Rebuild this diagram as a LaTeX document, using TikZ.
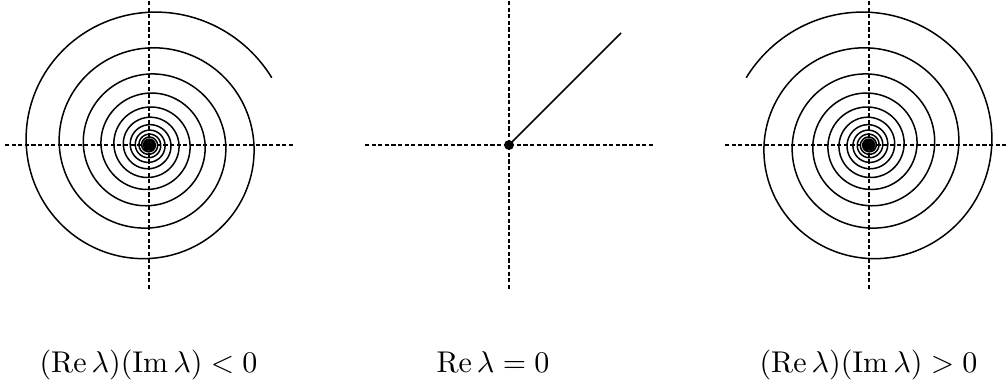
\documentclass[tikz,border=0pt]{standalone}
\usepackage{amsmath}
\begin{document}
\begin{tikzpicture}[x=0.33333pt,y=-0.33333pt,
  declare function={rr(\t)=140*exp(-0.000874*(\t-28.7));},
  axis/.style={dash pattern=on 1.4pt off 0.8pt, line width=0.45pt},
  curve/.style={line width=0.5pt},
  dotc/.style={circle,fill,inner sep=0pt,minimum size=3.3pt},
  lab/.style={anchor=base,inner sep=0pt}]
\useasboundingbox (0,0) rectangle (1008,389);
% left panel
\coordinate (Lw) at (5,145); \coordinate (Le) at (293,145);
\coordinate (Ln) at (149,1); \coordinate (Ls) at (149,289);
\draw[axis] (Lw) -- (Le);
\draw[axis] (Ln) -- (Ls);
\draw[curve] plot[domain=28.7:4425, samples=2000] ({149+rr(\x)*cos(\x)}, {145-rr(\x)*sin(\x)});
\node[dotc] (oL) at (149,145) {};
% middle panel
\coordinate (Mw) at (365,145); \coordinate (Me) at (653,145);
\coordinate (Mn) at (509,1); \coordinate (Ms) at (509,289);
\draw[axis] (Mw) -- (Me);
\draw[axis] (Mn) -- (Ms);
\node[dotc] (oM) at (509,145) {};
\coordinate (rayEnd) at (621,33);
\draw[curve] (oM.center) -- (rayEnd);
% right panel
\coordinate (Rw) at (725,145); \coordinate (Re) at (1013,145);
\coordinate (Rn) at (869,1); \coordinate (Rs) at (869,289);
\draw[axis] (Rw) -- (Re);
\draw[axis] (Rn) -- (Rs);
\draw[curve] plot[domain=28.7:4425, samples=2000] ({869-rr(\x)*cos(\x)}, {145-rr(\x)*sin(\x)});
\node[dotc] (oR) at (869,145) {};
% labels
\node[lab] (tL) at (148.5,372) {$(\operatorname{Re}\lambda)(\operatorname{Im}\lambda) < 0$};
\node[lab] (tM) at (493,372) {$\operatorname{Re}\lambda = 0$};
\node[lab] (tR) at (868.5,372) {$(\operatorname{Re}\lambda)(\operatorname{Im}\lambda) > 0$};
\end{tikzpicture}
\end{document}
